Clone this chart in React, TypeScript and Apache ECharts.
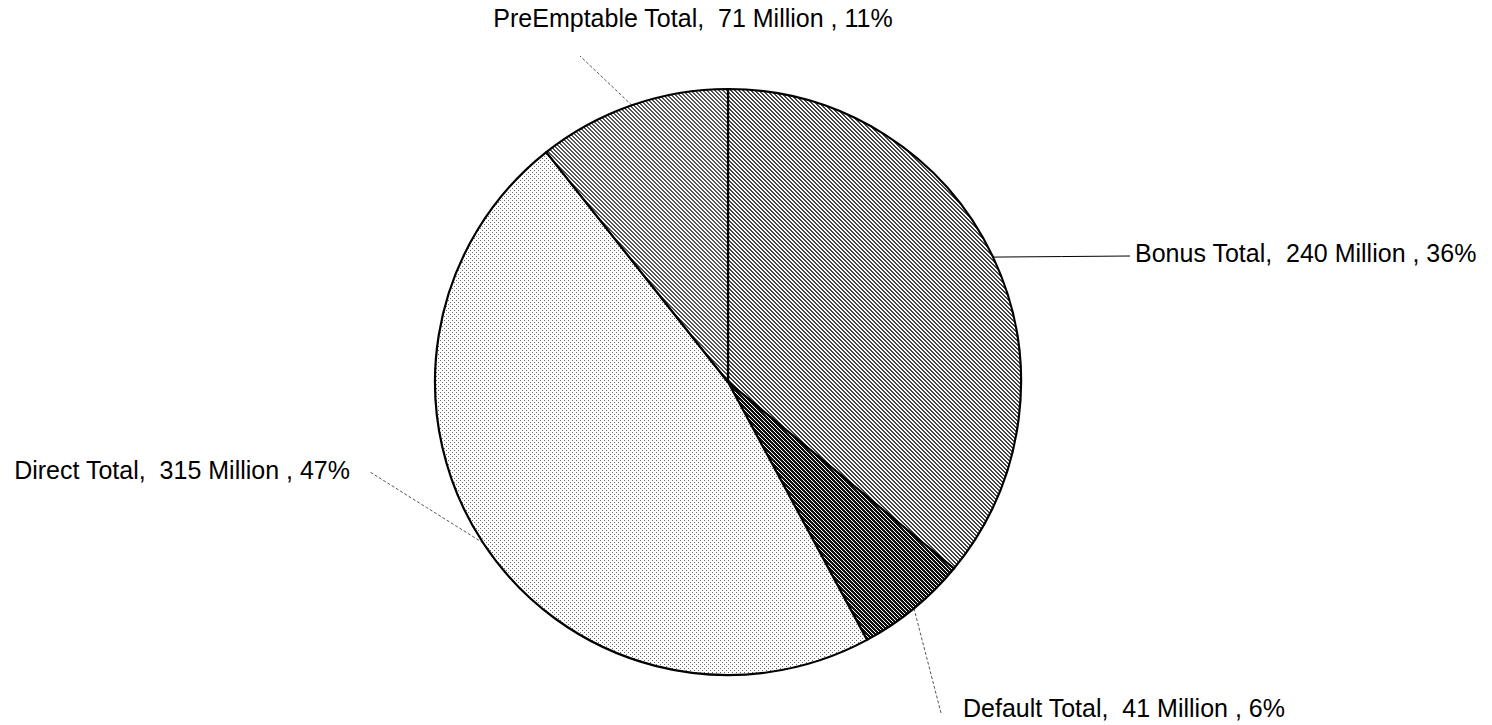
import React, { useEffect, useRef } from "react";
import * as echarts from "echarts";

// Slice names and totals (millions)
const categories = ["Bonus Total", "Default Total", "Direct Total", "PreEmptable Total"];
const totalsMillion = [240, 41, 315, 71];

// 4x4 dither tiles for each slice: 1 = ink pixel, 0 = paper
const ditherTiles: number[][][] = [
  [
    [1, 1, 0, 0],
    [0, 1, 1, 0],
    [0, 0, 1, 1],
    [1, 0, 0, 1],
  ],
  [
    [1, 1, 1, 0],
    [0, 1, 1, 1],
    [1, 0, 1, 1],
    [1, 1, 0, 1],
  ],
  [
    [1, 0, 0, 0],
    [0, 0, 0, 0],
    [0, 0, 1, 0],
    [0, 0, 0, 0],
  ],
  [
    [1, 1, 0, 0],
    [0, 1, 1, 0],
    [0, 0, 1, 1],
    [1, 0, 0, 1],
  ],
];
const inkColors = ["#444444", "#111111", "#666666", "#555555"];

// Where each label sits and where its leader line ends
const labelPlacement = [
  { x: 1135, y: 253, align: "left", lineEnd: [1130, 256] },
  { x: 963, y: 708, align: "left", lineEnd: [941, 713] },
  { x: 350, y: 470, align: "right", lineEnd: [370, 472] },
  { x: 693, y: 18, align: "center", lineEnd: [580, 56] },
];

function makePattern(tile: number[][], ink: string) {
  const size = tile.length;
  const canvas = document.createElement("canvas");
  canvas.width = size;
  canvas.height = size;
  const ctx = canvas.getContext("2d")!;
  ctx.fillStyle = "#ffffff";
  ctx.fillRect(0, 0, size, size);
  ctx.fillStyle = ink;
  for (let y = 0; y < size; y++) {
    for (let x = 0; x < size; x++) {
      if (tile[y][x]) ctx.fillRect(x, y, 1, 1);
    }
  }
  return {
    image: canvas.toDataURL(),
    repeat: "repeat",
    imageWidth: size,
    imageHeight: size,
  };
}

export default function App() {
  const ref = useRef<HTMLDivElement>(null);

  useEffect(() => {
    if (!ref.current) return;
    const chart = echarts.init(ref.current, undefined, { renderer: "svg" });

    const data = categories.map((name, i) => ({
      name,
      value: totalsMillion[i],
      itemStyle: { color: makePattern(ditherTiles[i], inkColors[i]) as any },
      labelLine: {
        lineStyle:
          i === 0
            ? { color: "#000", width: 1, type: "solid" }
            : { color: "#555", width: 1, type: [3, 2] },
      },
    }));

    chart.setOption({
      animation: false,
      backgroundColor: "#ffffff",
      series: [
        {
          type: "pie",
          center: [728, 382],
          radius: 293,
          startAngle: 90,
          clockwise: true,
          percentPrecision: 0,
          data,
          itemStyle: { borderColor: "#000", borderWidth: 2.2 },
          emphasis: { disabled: true },
          label: {
            show: true,
            position: "outside",
            formatter: "{b},  {c} Million , {d}%",
            fontFamily: "Liberation Sans, Arial, sans-serif",
            fontSize: 25,
            color: "#000",
          },
          labelLine: { show: true, length: 20, length2: 20 },
          labelLayout: (params: any) => {
            const p = labelPlacement[params.dataIndex];
            const start = params.labelLinePoints ? params.labelLinePoints[0] : null;
            const out: any = {
              x: p.x,
              y: p.y,
              align: p.align,
              verticalAlign: "middle",
            };
            if (start) {
              out.labelLinePoints = [
                start,
                [(start[0] + p.lineEnd[0]) / 2, (start[1] + p.lineEnd[1]) / 2],
                p.lineEnd,
              ];
            }
            return out;
          },
        },
      ],
    });

    return () => chart.dispose();
  }, []);

  return (
    <div
      ref={ref}
      style={{ position: "absolute", left: 0, top: 0, width: 1492, height: 725 }}
    />
  );
}
